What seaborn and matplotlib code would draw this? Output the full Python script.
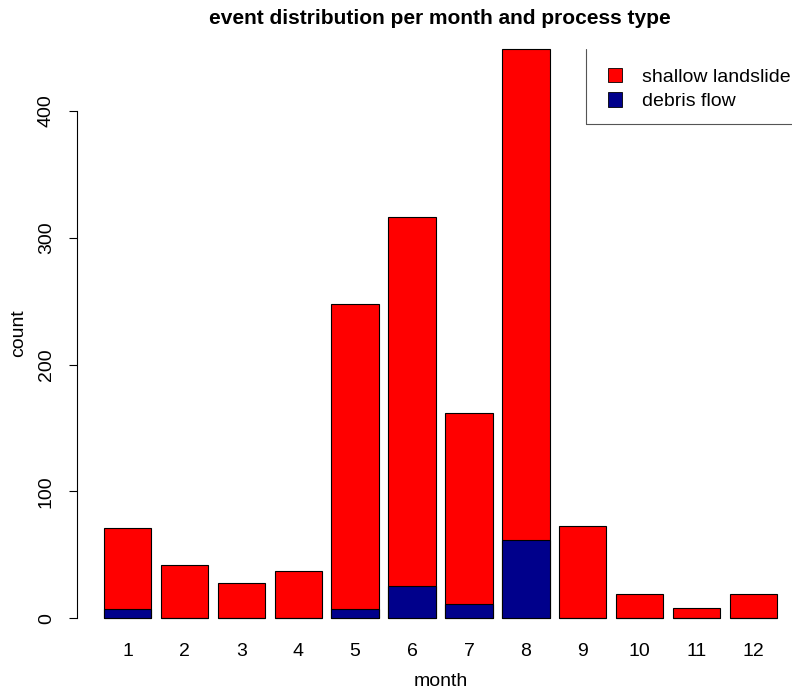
import pandas as pd
import seaborn as sns
import matplotlib.pyplot as plt
from matplotlib.patches import Patch
from matplotlib.lines import Line2D

# values
months = ['1', '2', '3', '4', '5', '6', '7', '8', '9', '10', '11', '12']
totals = [71, 42, 28, 37, 248, 316, 162, 449, 73, 19, 8, 19]
debris = [7, 0, 0, 0, 7, 25, 11, 62, 0, 0, 0, 0]

df = pd.DataFrame({'month': months, 'total': totals, 'debris': debris})

sns.set_style('white')
plt.rcParams['font.family'] = ['Liberation Sans', 'DejaVu Sans']
plt.rcParams['text.color'] = 'black'
plt.rcParams['axes.labelcolor'] = 'black'
plt.rcParams['xtick.color'] = 'black'
plt.rcParams['ytick.color'] = 'black'

fig = plt.figure(figsize=(7.92, 6.94), dpi=100)
# axes placed like R's plot region (right part runs off the figure)
ax = fig.add_axes([77 / 792, 53 / 694, 727 / 792, 615 / 694])

bw = 1 / 1.2
sns.barplot(data=df, x='month', y='total', color='#FF0000', width=bw,
            edgecolor='black', linewidth=0.8, saturation=1, ax=ax)
sns.barplot(data=df, x='month', y='debris', color='#00008B', width=bw,
            edgecolor='black', linewidth=0.8, saturation=1, ax=ax)

ax.set_xlim(-0.89, 11.89)
ax.set_ylim(-18, 467)
ax.set_yticks([0, 100, 200, 300, 400])
ax.tick_params(axis='y', left=True, length=6, width=0.8, labelsize=14,
               labelrotation=90, pad=10)
for lab in ax.get_yticklabels():
    lab.set_va('center')
ax.tick_params(axis='x', bottom=False, labelsize=14, pad=-2)

for s in ['top', 'right', 'bottom']:
    ax.spines[s].set_visible(False)
ax.spines['left'].set_bounds(0, 400)
ax.spines['left'].set_linewidth(0.8)
ax.spines['left'].set_color('black')

ax.set_xlabel('month', fontsize=14, labelpad=9)
ax.set_ylabel('count', fontsize=14, labelpad=8)
fig.text(440 / 792, 1 - 18 / 694, 'event distribution per month and process type',
         ha='center', va='center', fontsize=15, fontweight='bold')

handles = [Patch(facecolor='#FF0000', edgecolor='black', linewidth=0.6),
           Patch(facecolor='#00008B', edgecolor='black', linewidth=0.6)]
fig.legend(handles, ['shallow landslide', 'debris flow'], loc='upper left',
           bbox_to_anchor=(598 / 792, 1 - 58 / 694), frameon=False,
           fontsize=14, handlelength=0.75, handleheight=0.75,
           handletextpad=1.0, labelspacing=0.35, borderpad=0)

# legend box: only left and bottom edges show, the rest is cut off
fig.add_artist(Line2D([586 / 792, 586 / 792], [1 - 49 / 694, 1 - 124 / 694],
                      color='#555555', linewidth=0.8))
fig.add_artist(Line2D([586 / 792, 1.0], [1 - 124 / 694, 1 - 124 / 694],
                      color='#555555', linewidth=0.8))

fig.savefig('out.png', dpi=100)
